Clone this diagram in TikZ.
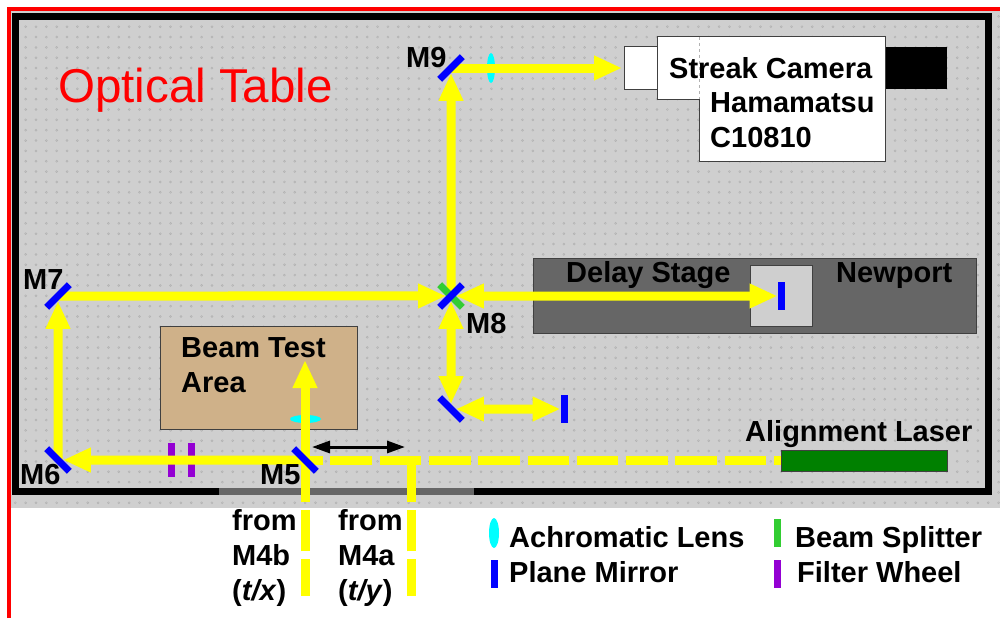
\documentclass[tikz,border=0pt]{standalone}
\usepackage{fontspec}
\setmainfont{Liberation Sans}
\usetikzlibrary{positioning,arrows.meta,calc,shapes.geometric}
\pgfdeclarelayer{optics}
\pgfsetlayers{main,optics}
\definecolor{tablegray}{HTML}{CFCFCF}
\definecolor{holegray}{HTML}{B2B2B2}
\definecolor{stagegray}{HTML}{666666}
\definecolor{areatan}{HTML}{CFB189}
\definecolor{lasergreen}{HTML}{008000}
\definecolor{splitgreen}{HTML}{32CD32}
\definecolor{wheelviolet}{HTML}{9400D3}
\definecolor{beamyellow}{HTML}{FFFF00}
\definecolor{lenscyan}{HTML}{00FFFF}
\definecolor{mirrorblue}{HTML}{0000FF}
\definecolor{tablered}{HTML}{FF0000}
\tikzset{
  >={Triangle[length=28pt,width=23pt]},
  beam/.style={line width=9pt,beamyellow},
  pilot/.style={beam,dash pattern=on 41.6pt off 7.7pt},
  hole/.style={holegray,line width=0.5pt},
  box/.style={draw=black!75,line width=1pt},
  mirror/.style={rectangle,fill=mirrorblue,minimum width=32pt,minimum height=7pt,inner sep=0pt,outer sep=0pt},
  splitter/.style={mirror,fill=splitgreen},
  flat/.style={rectangle,fill=mirrorblue,minimum width=7pt,minimum height=28pt,inner sep=0pt,outer sep=0pt},
  wheel/.style={flat,fill=wheelviolet,minimum height=34pt},
  lens/.style={ellipse,fill=lenscyan,inner sep=0pt,outer sep=0pt,minimum width=8pt,minimum height=30pt},
  lbl/.style={font=\fontsize{29}{35}\selectfont\bfseries,inner sep=0pt,anchor=base west},
  lblm/.style={lbl,align=left,anchor=north west},
}
\begin{document}
\begin{tikzpicture}[x=1pt,y=-1pt]
  \useasboundingbox (0,0) rectangle (1000,618);
  % table with its grid of holes
  \fill[tablegray] (11,11) rectangle (1000,508);
  \foreach \j in {-1,...,46}{
    \pgfmathsetmacro{\yy}{26.7+10.35*\j}
    \foreach \i in {0,...,95}{
      \pgfmathsetmacro{\xx}{15.3+10.35*\i}
      \draw[hole] (\xx,\yy) circle (1pt);
    }
  }
  \draw[tablered,line width=4pt] (9,618)--(9,9)--(1000,9);
  \draw[black,line width=7pt] (15.5,16.5) rectangle (988,491);
  \draw[stagegray,line width=7pt] (219,491)--(474,491);
  \node[font=\fontsize{47.5}{47.5}\selectfont,text=tablered,inner sep=0pt,anchor=base west] (title) at (58,102) {Optical Table};

  % camera, stage, test area, laser
  \fill[black] (885,47) rectangle (947,89);
  \draw[box,fill=white] (624,47) rectangle (657,89);
  \draw[box,fill=white] (657,37)--(885,37)--(885,161)--(699,161)--(699,99)--(657,99)--cycle;
  \draw[black!30,line width=0.5pt,dashed] (699,37)--(699,99);
  \draw[box,fill=stagegray] (533,258) rectangle (976,333);
  \draw[box,fill=tablegray] (750,265) rectangle (812,326);
  \draw[box,fill=areatan] (160,326) rectangle (357,429);
  \draw[box,fill=lasergreen] (781,450) rectangle (947,471);

  % optics sit above the beams
  \begin{pgfonlayer}{optics}
    \node[splitter,rotate=-45] (BS) at (451,296) {};
    \node[mirror,rotate=45] (M9) at (451,68) {};
    \node[mirror,rotate=45] (M8) at (451,296) {};
    \node[mirror,rotate=45] (M7) at (58,296) {};
    \node[mirror,rotate=-45] (M6) at (58,460) {};
    \node[mirror,rotate=-45] (M5) at (305,460) {};
    \node[mirror,rotate=-45] (Mb) at (451,409) {};
    \node[flat] (Eb) at (564,409) {};
    \node[flat] (Ed) at (781,296) {};
  \end{pgfonlayer}
  \node[lens] (La) at (491,68) {};
  \node[lens,minimum width=31pt,minimum height=8pt] (Lb) at (305.5,419) {};
  \node[wheel] (Fa) at (171,460) {};
  \node[wheel] (Fb) at (191,460) {};

  \coordinate (CE) at (622,68);
  \coordinate (BT) at (305,360);
  \coordinate (LS) at (781,460);
  \coordinate (Ja) at (411,460);
  \coordinate (Sa) at (411,596);
  \coordinate (Sb) at (305,596);
  \coordinate (Ra) at (312,447);
  \coordinate (Rb) at (405,447);

  % dashed pilot beams
  \draw[pilot,dash phase=34.6pt] (LS)--(M5.center);
  \draw[pilot,dash phase=4.6pt] (Sb)--(M5.center);
  \draw[pilot,dash phase=4.6pt] (Sa)--(Ja);
  % main beam path
  \draw[beam,->] (M5.center)--(BT);
  \draw[beam,->] (M5.center)--(M6);
  \draw[beam,->] (M6.center)--(M7);
  \draw[beam,->] (M7.center)--(M8);
  \draw[beam,->] (M8.center)--(M9);
  \draw[beam,->] (M9.center)--(CE);
  \draw[beam,<->] (M8)--(Ed);
  \draw[beam,<->] (M8)--(Mb);
  \draw[beam,<->] (Mb)--(Eb);
  \draw[line width=3pt,{Triangle[length=18pt,width=12pt]}-{Triangle[length=18pt,width=12pt]}] (Ra)--(Rb);

  % labels
  \node[lbl] (tM9) at (406,67) {M9};
  \node[lbl] (tM8) at (466,333) {M8};
  \node[lbl] (tM7) at (23,289) {M7};
  \node[lbl] (tM6) at (20,484) {M6};
  \node[lbl] (tM5) at (260,484) {M5};
  \node[lbl] (tcam) at (669,78) {Streak Camera};
  \node[lblm] (tham) at (710,92) {Hamamatsu\\C10810};
  \node[lbl] (tdel) at (566,282) {Delay Stage};
  \node[lbl] (tnew) at (836,282) {Newport};
  \node[lblm] (tbta) at (181,337) {Beam Test\\Area};
  \node[lbl] (tlas) at (745,441) {Alignment Laser};
  \node[lblm] (tfb) at (232,509) {from\\M4b\\(\textit{t/x})};
  \node[lblm] (tfa) at (338,509) {from\\M4a\\(\textit{t/y})};

  % legend
  \node[lens,minimum width=10pt] (kLens) at (494,533) {};
  \node[flat] (kMir) at (494.5,573.5) {};
  \node[flat,fill=splitgreen] (kSpl) at (777,532.5) {};
  \node[flat,fill=wheelviolet] (kWhl) at (777,573.5) {};
  \node[lbl] (tLens) at (509,547) {Achromatic Lens};
  \node[lbl] (tMir) at (509,582) {Plane Mirror};
  \node[lbl] (tSpl) at (795,547) {Beam Splitter};
  \node[lbl] (tWhl) at (797,582) {Filter Wheel};
\end{tikzpicture}
\end{document}
